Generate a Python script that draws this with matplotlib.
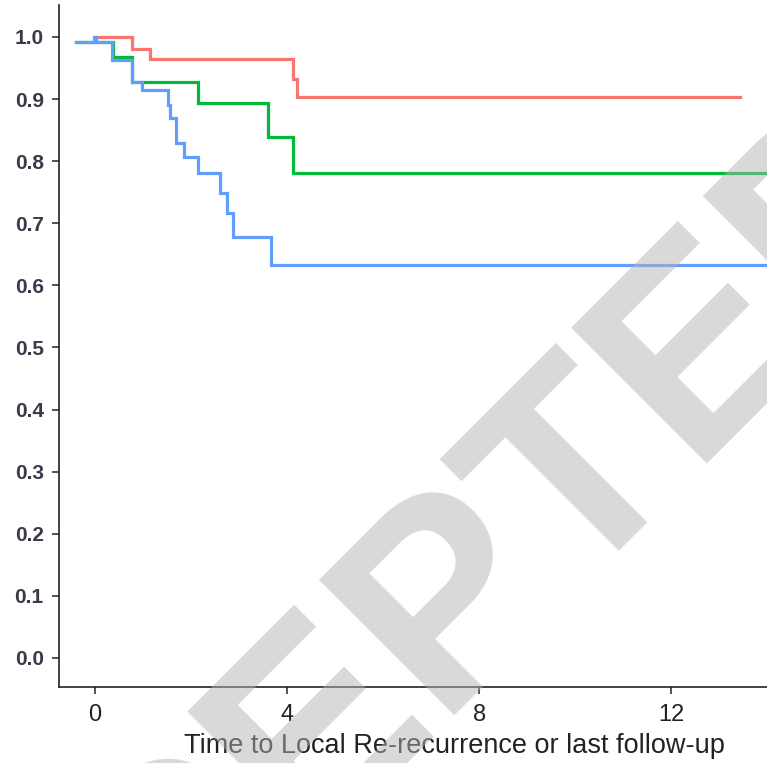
import matplotlib
matplotlib.use("Agg")
import matplotlib.pyplot as plt

# survival curves (time, survival)
red_t = [0.0, 0.78, 1.15, 4.13, 4.20, 13.42]
red_s = [1.0, 0.980, 0.965, 0.932, 0.904, 0.904]

green_t = [-0.40, 0.38, 0.76, 2.15, 3.61, 4.13, 15.5]
green_s = [0.992, 0.968, 0.928, 0.893, 0.839, 0.781, 0.781]

blue_t = [-0.40, -0.03, 0.03, 0.35, 0.76, 0.97, 1.53, 1.56, 1.69, 1.85,
          2.15, 2.60, 2.74, 2.88, 3.66, 15.5]
blue_s = [0.992, 1.0, 0.992, 0.963, 0.928, 0.914, 0.891, 0.869, 0.830, 0.806,
          0.781, 0.748, 0.716, 0.678, 0.633, 0.633]

x_ticks = [0, 4, 8, 12]
y_ticks = [0.0, 0.1, 0.2, 0.3, 0.4, 0.5, 0.6, 0.7, 0.8, 0.9, 1.0]

W, H = 767, 763
fig = plt.figure(figsize=(W / 100, H / 100), dpi=100)
# panel runs past the right edge of the picture (it is cropped there)
ax = fig.add_axes([59 / W, 1 - 687 / H, (849 - 59) / W, (687 - 5) / H])

for t, s, c in [(red_t, red_s, '#F8766D'), (green_t, green_s, '#00BA38'),
                (blue_t, blue_s, '#619CFF')]:
    ax.step(t, s, where='post', color=c, lw=2.3, solid_joinstyle='miter')

ax.set_xlim(-0.75, 15.7)
ax.set_ylim(-0.0467, 1.0515)
ax.set_xticks(x_ticks)
ax.set_yticks(y_ticks)
ax.set_yticklabels([f'{v:.1f}' for v in y_ticks])

for side in ['top', 'right']:
    ax.spines[side].set_visible(False)
for side in ['left', 'bottom']:
    ax.spines[side].set_linewidth(1.2)
    ax.spines[side].set_color('#222222')

ax.tick_params(axis='both', length=5, width=1.1, color='#222222')
ax.tick_params(axis='y', pad=6)
ax.tick_params(axis='x', pad=7)
for lab in ax.get_yticklabels():
    lab.set_fontfamily('Liberation Sans')
    lab.set_fontsize(15)
    lab.set_fontweight('bold')
    lab.set_color('#3a3a4a')
for lab in ax.get_xticklabels():
    lab.set_fontfamily('Liberation Sans')
    lab.set_fontsize(17)
    lab.set_color('#222222')

ax.set_xlabel('Time to Local Re-recurrence or last follow-up',
              family='Liberation Sans', fontsize=19.5, color='#222222',
              labelpad=5)

# watermark
fig.text(424 / W, 1 - 740 / H, 'ACCEPTED', family='Liberation Sans',
         fontweight='bold', fontsize=201, color='#b3b3b3', alpha=0.5,
         rotation=45, ha='center', va='baseline', rotation_mode='anchor',
         zorder=10)

fig.savefig('out.png', dpi=100)
